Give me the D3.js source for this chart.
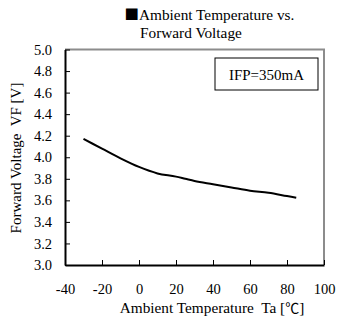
<!DOCTYPE html>
<html>
<head>
<meta charset="utf-8">
<script src="https://cdn.jsdelivr.net/npm/d3@7"></script>
<style>
  html, body { margin: 0; padding: 0; background: #fff; }
  svg { display: block; }
  svg text { white-space: pre; fill: #000; }
</style>
</head>
<body>
<svg id="chart" width="338" height="324"></svg>
<script>
// Ambient temperature (°C) and forward voltage (V) at IFP = 350 mA
const temperatures = [-30, -20, -10, 0, 10, 20, 25, 30, 40, 50, 60, 70, 80, 85];
const voltages     = [4.17, 4.08, 3.99, 3.91, 3.85, 3.82, 3.80, 3.78, 3.75, 3.72, 3.69, 3.67, 3.64, 3.625];
const xTicks = [-40, -20, 0, 20, 40, 60, 80, 100];
const yTicks = [3.0, 3.2, 3.4, 3.6, 3.8, 4.0, 4.2, 4.4, 4.6, 4.8, 5.0];

const serif = "'Liberation Serif', 'Times New Roman', serif";
const cjk = "'Noto Sans CJK JP', sans-serif";
const svg = d3.select("#chart");
const plot = { left: 65, right: 324, top: 49.5, bottom: 265 };

const x = d3.scaleLinear().domain([-40, 100]).range([plot.left, plot.right]);
const y = d3.scaleLinear().domain([3.0, 5.0]).range([plot.bottom, plot.top]);

// Frame: grey top/right edges
svg.append("path")
  .attr("d", `M${plot.left},${plot.top}H${plot.right}V${plot.bottom}`)
  .attr("fill", "none")
  .attr("stroke", "#8c8c8c")
  .attr("stroke-width", 2);

// Axes with inward ticks
const xAxis = svg.append("g")
  .attr("transform", `translate(0,${plot.bottom})`)
  .call(d3.axisBottom(x).tickValues(xTicks).tickSize(-5).tickSizeOuter(0).tickPadding(19)
    .tickFormat(d => String(d)));
const yAxis = svg.append("g")
  .attr("transform", `translate(${plot.left},0)`)
  .call(d3.axisLeft(y).tickValues(yTicks).tickSize(-5).tickSizeOuter(0).tickPadding(13)
    .tickFormat(d => d.toFixed(1)));

[xAxis, yAxis].forEach(g => {
  g.attr("font-family", serif).attr("font-size", 14.5);
  g.select(".domain").attr("stroke", "#000").attr("stroke-width", 2);
  g.selectAll(".tick line").attr("stroke", "#000").attr("stroke-width", 1);
  g.selectAll(".tick text").attr("fill", "#000");
});

// Curve
const line = d3.line()
  .x((d, i) => x(temperatures[i]))
  .y(d => y(d))
  .curve(d3.curveMonotoneX);
svg.append("path")
  .datum(voltages)
  .attr("d", line)
  .attr("fill", "none")
  .attr("stroke", "#000")
  .attr("stroke-width", 2);

// Condition box
svg.append("rect")
  .attr("x", 215).attr("y", 58).attr("width", 103).attr("height", 32)
  .attr("fill", "#fff").attr("stroke", "#000").attr("stroke-width", 1);

const label = (px, py, size, anchor) => svg.append("text")
  .attr("x", px).attr("y", py)
  .attr("font-family", serif)
  .attr("font-size", size)
  .attr("text-anchor", anchor || "start");

label(266.5, 79.5, 15, "middle").text("IFP=350mA");

// Title
const t1 = label(124.5, 20, 15.3);
t1.append("tspan").attr("font-family", cjk).attr("font-size", 14.5).text("■");
t1.append("tspan").text("Ambient Temperature vs.");
label(140, 38, 15.3).text("Forward Voltage");

// Axis titles
const xl = label(212, 313, 15.3, "middle");
xl.append("tspan").text("Ambient Temperature  Ta [");
xl.append("tspan").attr("font-family", cjk).attr("font-size", 14).text("℃");
xl.append("tspan").text("]");

label(0, 0, 15, "middle")
  .attr("transform", "translate(21,158) rotate(-90)")
  .text("Forward Voltage  VF [V]");
</script>
</body>
</html>
